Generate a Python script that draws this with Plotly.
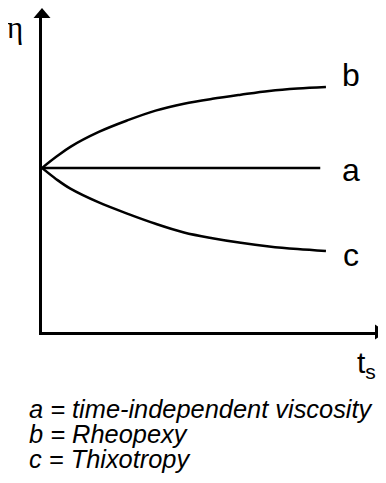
import plotly.graph_objects as go

# ---- data (arbitrary units) ----
t_values = [0, 0.5, 1, 2, 3, 4, 5, 6, 7, 8, 9, 10]
eta_b = [10, 10.68, 11.29, 12.2, 12.9, 13.5, 13.92, 14.22, 14.47, 14.7, 14.85, 14.94]
eta_c = [10, 9.32, 8.74, 7.9, 7.22, 6.6, 6.07, 5.72, 5.44, 5.22, 5.06, 4.94]
t_a = [0, 9.8]
eta_a = [10, 10]

curve_labels = ["a", "b", "c"]
axis_labels = ["η", "t<sub>s</sub>"]
legend_lines = [
    "a = time-independent viscosity",
    "b = Rheopexy",
    "c = Thixotropy",
]

OFF = 8  # default page margin of the browser
W, H = 386 - OFF, 483 - OFF
L, R, T, B = 42 - OFF, 1, 18 - OFF, 151
PW, PH = W - L - R, H - T - B
x_range = [0, 12.08]
y_range = [0, PH / 16.4]


def px(page_x):
    return (page_x - OFF - L) / PW


def py(page_y):
    return (H - B - (page_y - OFF)) / PH


fig = go.Figure()
line_style = dict(color="black", width=2.5)
fig.add_trace(go.Scatter(x=t_a, y=eta_a, mode="lines", line=line_style, hoverinfo="skip"))
fig.add_trace(go.Scatter(x=t_values, y=eta_b, mode="lines",
                         line=dict(shape="spline", smoothing=1.0, **line_style), hoverinfo="skip"))
fig.add_trace(go.Scatter(x=t_values, y=eta_c, mode="lines",
                         line=dict(shape="spline", smoothing=1.0, **line_style), hoverinfo="skip"))

annotations = []
label_font = dict(family="Liberation Sans, Arial", size=32, color="black")
annotations.append(dict(x=10.88, y=eta_a[-1] - 0.12, text=curve_labels[0], showarrow=False,
                        xanchor="center", yanchor="middle", font=label_font))
annotations.append(dict(x=10.88, y=eta_b[-1] + 0.73, text=curve_labels[1], showarrow=False,
                        xanchor="center", yanchor="middle", font=label_font))
annotations.append(dict(x=10.88, y=eta_c[-1] - 0.24, text=curve_labels[2], showarrow=False,
                        xanchor="center", yanchor="middle", font=label_font))
annotations.append(dict(xref="paper", yref="paper", x=px(15), y=py(27), text=axis_labels[0], showarrow=False,
                        xanchor="center", yanchor="middle",
                        font=dict(family="Liberation Serif, Times New Roman", size=31, color="black")))
annotations.append(dict(xref="paper", yref="paper", x=px(366), y=py(364), text=axis_labels[1], showarrow=False,
                        xanchor="center", yanchor="middle",
                        font=dict(family="Liberation Sans, Arial", size=30, color="black")))
cap_y = [409, 434, 459]
for txt, yy in zip(legend_lines, cap_y):
    annotations.append(dict(xref="paper", yref="paper", x=px(27), y=py(yy),
                            text=txt, showarrow=False, xanchor="left", yanchor="middle",
                            font=dict(family="Liberation Sans, Arial", size=25.4, color="black", style="italic")))

shapes = [
    dict(type="path", xref="paper", yref="paper", xsizemode="pixel", ysizemode="pixel",
         xanchor=0, yanchor=1, path="M -8.5,0 L 8.5,0 L 0,10 Z", fillcolor="black", line=dict(width=0)),
    dict(type="path", xref="paper", yref="paper", xsizemode="pixel", ysizemode="pixel",
         xanchor=1, yanchor=0, path="M -10,7.5 L -10,-7.5 L 1,0 Z", fillcolor="black", line=dict(width=0)),
]

fig.update_layout(
    width=W, height=H,
    margin=dict(l=L, r=R, t=T, b=B),
    paper_bgcolor="white", plot_bgcolor="white",
    showlegend=False,
    annotations=annotations,
    shapes=shapes,
)
fig.update_xaxes(range=x_range, showgrid=False, zeroline=False, showticklabels=False, ticks="",
                 showline=True, linecolor="black", linewidth=3)
fig.update_yaxes(range=y_range, showgrid=False, zeroline=False, showticklabels=False, ticks="",
                 showline=True, linecolor="black", linewidth=3)

fig.write_html("out.html")
